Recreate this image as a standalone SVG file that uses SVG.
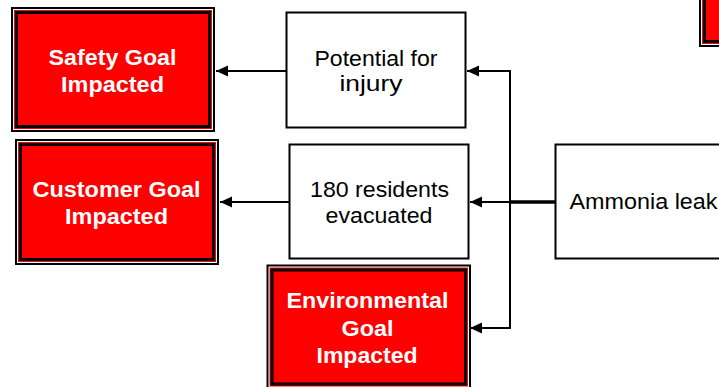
<svg xmlns="http://www.w3.org/2000/svg" width="719" height="387" viewBox="0 0 719 387">
<style>
.o{fill:#fff;stroke:#000;stroke-width:2}
.r{fill:#f00;stroke:none}
.i{fill:#f00;stroke:#000;stroke-width:3}
.b{fill:#fff;stroke:#000;stroke-width:2}
.tw{font-family:"Liberation Sans",Arial,sans-serif;font-weight:bold;font-size:22px;fill:#fff;text-anchor:middle}
.tb{font-family:"Liberation Sans",Arial,sans-serif;font-size:22px;fill:#000;text-anchor:middle}
.c{fill:none;stroke:#000;stroke-width:2}
</style>
<defs>
<marker id="ah" markerUnits="userSpaceOnUse" markerWidth="13" markerHeight="12" refX="12" refY="6" orient="auto">
<path d="M0,0.5 L12,6 L0,11.5 z" fill="#000"/>
</marker>
</defs>
<rect width="719" height="387" fill="#fff"/>
<g id="connectors">
<line class="c" x1="286" y1="71" x2="216" y2="71" marker-end="url(#ah)"/>
<line class="c" x1="289" y1="202" x2="220" y2="202" marker-end="url(#ah)"/>
<polyline class="c" points="510,202 510,71 467,71" marker-end="url(#ah)"/>
<line class="c" x1="510" y1="202" x2="470" y2="202" marker-end="url(#ah)"/>
<polyline class="c" points="510,202 510,328 470,328" marker-end="url(#ah)"/>
<line x1="510" y1="202" x2="555" y2="202" stroke="#000" stroke-width="3.5"/>
</g>
<g id="safety">
<rect class="o" x="12" y="8" width="202" height="123"/>
<rect class="r" x="14" y="10" width="198" height="119"/>
<rect class="i" x="16.5" y="12.5" width="193" height="114"/>
<text class="tw" x="112.5" y="65" textLength="128" lengthAdjust="spacingAndGlyphs">Safety Goal</text>
<text class="tw" x="112.5" y="92" textLength="103" lengthAdjust="spacingAndGlyphs">Impacted</text>
</g>
<g id="customer">
<rect class="o" x="16" y="140" width="202" height="124"/>
<rect class="r" x="18" y="142" width="198" height="120"/>
<rect class="i" x="20.5" y="144.5" width="193" height="115"/>
<text class="tw" x="116.5" y="197" textLength="168" lengthAdjust="spacingAndGlyphs">Customer Goal</text>
<text class="tw" x="116.5" y="224" textLength="103" lengthAdjust="spacingAndGlyphs">Impacted</text>
</g>
<g id="environmental">
<rect class="o" x="267.5" y="265.5" width="202.5" height="123"/>
<rect class="r" x="269.5" y="267.5" width="198.5" height="119"/>
<rect class="i" x="272" y="270" width="193.5" height="114"/>
<text class="tw" x="367.5" y="308" textLength="162" lengthAdjust="spacingAndGlyphs">Environmental</text>
<text class="tw" x="367.5" y="336" textLength="52" lengthAdjust="spacingAndGlyphs">Goal</text>
<text class="tw" x="367" y="363" textLength="101" lengthAdjust="spacingAndGlyphs">Impacted</text>
</g>
<g id="topright">
<rect class="o" x="700" y="-80" width="60" height="126"/>
<rect class="r" x="702" y="-78" width="56" height="122"/>
<rect class="i" x="704.5" y="-75.5" width="51" height="117"/>
</g>
<g id="potential">
<rect class="b" x="286.5" y="12.5" width="179" height="115"/>
<text class="tb" x="376" y="66" textLength="123" lengthAdjust="spacingAndGlyphs">Potential for</text>
<text class="tb" x="371" y="91" textLength="63" lengthAdjust="spacingAndGlyphs">injury</text>
</g>
<g id="residents">
<rect class="b" x="289.5" y="144.5" width="179" height="114"/>
<text class="tb" x="379.5" y="197" textLength="139" lengthAdjust="spacingAndGlyphs">180 residents</text>
<text class="tb" x="379" y="223" textLength="107" lengthAdjust="spacingAndGlyphs">evacuated</text>
</g>
<g id="ammonia">
<rect class="b" x="555.5" y="144.5" width="200" height="114"/>
<text class="tb" x="569.5" y="209" style="text-anchor:start" textLength="148" lengthAdjust="spacingAndGlyphs">Ammonia leak</text>
</g>
</svg>
